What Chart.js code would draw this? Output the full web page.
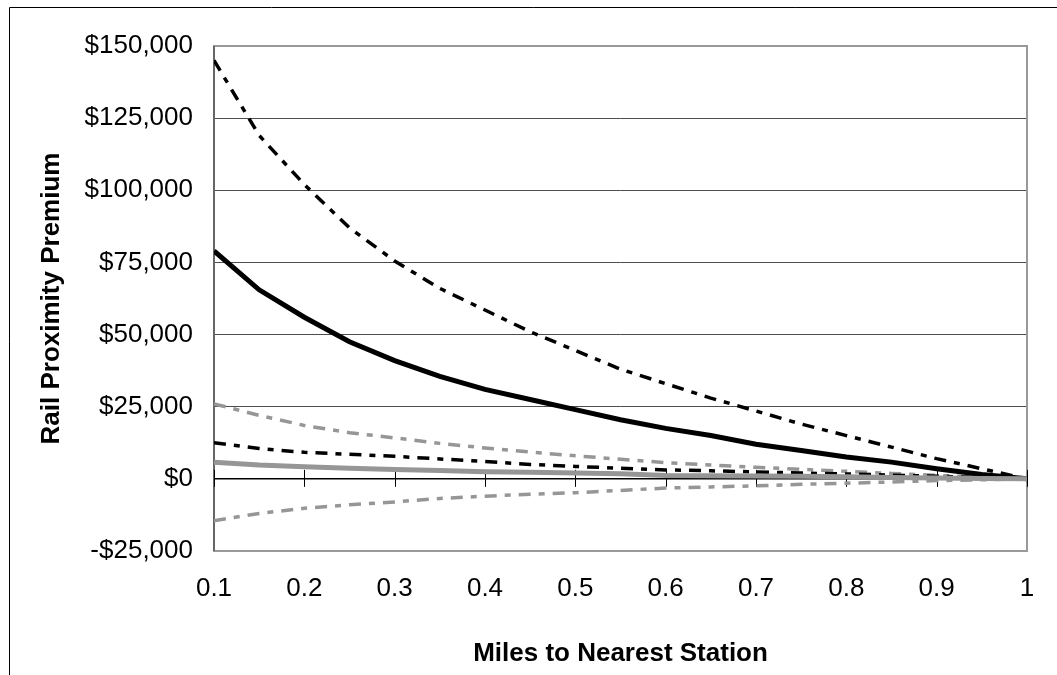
<!DOCTYPE html>
<html>
<head>
<meta charset="utf-8">
<script src="https://cdn.jsdelivr.net/npm/chart.js@4/dist/chart.umd.min.js"></script>
<style>
  html, body { margin: 0; padding: 0; background: #fff; }
  canvas { display: block; }
</style>
</head>
<body>
<canvas id="myChart" width="1057" height="675"></canvas>
<script>
// miles to nearest station (x values)
const miles = [0.1, 0.15, 0.2, 0.25, 0.3, 0.35, 0.4, 0.45, 0.5, 0.55,
               0.6, 0.65, 0.7, 0.75, 0.8, 0.85, 0.9, 0.95, 1.0];

// premium series (dollars)
const upperBlack = [145000, 119000, 102000, 87000, 75500, 66000, 58500, 51000, 44500, 38000,
                    33000, 28000, 23500, 19000, 15000, 11000, 7000, 3500, 0];
const mainBlack  = [79000, 65500, 56000, 47500, 41000, 35500, 31000, 27500, 24000, 20500,
                    17500, 15000, 12000, 9800, 7600, 5800, 3500, 1500, 0];
const upperGray  = [26000, 22000, 18500, 16000, 14200, 12300, 10700, 9300, 8000, 6800,
                    5600, 4800, 4000, 3300, 2600, 1900, 1200, 600, 0];
const lowerBlack = [12500, 10500, 9200, 8500, 7800, 6900, 6000, 5000, 4300, 3700,
                    3100, 2800, 2400, 2000, 1700, 1300, 900, 500, 0];
const mainGray   = [5800, 4800, 4200, 3700, 3200, 2900, 2500, 2300, 2000, 1800,
                    1200, 1100, 1000, 900, 700, 500, 300, 100, 0];
const lowerGray  = [-14500, -12000, -10200, -9000, -8000, -6800, -6000, -5300, -4800, -4000,
                    -3200, -2800, -2400, -1900, -1500, -1100, -600, -300, 0];

// axis ticks
const xTicks = [0.1, 0.2, 0.3, 0.4, 0.5, 0.6, 0.7, 0.8, 0.9, 1];
const yTicks = [-25000, 0, 25000, 50000, 75000, 100000, 125000, 150000];

const FONT = 'Arial, "Liberation Sans", sans-serif';
const GRAY = '#969696';
const DASH = [12, 8, 6, 8];

function pts(arr) {
    return miles.map((m, i) => ({ x: m, y: arr[i] }));
}

function fmtDollar(v) {
    const s = '$' + Math.abs(v).toLocaleString('en-US');
    return v < 0 ? '-' + s : s;
}

// frame, plot border and the tick marks on the zero line
const decorPlugin = {
    id: 'decor',
    beforeDraw(chart) {
        const ctx = chart.ctx;
        ctx.save();
        ctx.strokeStyle = '#000';
        ctx.lineWidth = 1;
        ctx.beginPath();
        ctx.moveTo(9.5, 675);
        ctx.lineTo(9.5, 7.5);
        ctx.lineTo(1057, 7.5);
        ctx.stroke();
        ctx.restore();
    },
    beforeDatasetsDraw(chart) {
        const { ctx, chartArea: a, scales: { x, y } } = chart;
        ctx.save();
        ctx.strokeStyle = '#999';
        ctx.lineWidth = 2;
        ctx.strokeRect(a.left, a.top, a.right - a.left, a.bottom - a.top);
        ctx.strokeStyle = '#666';
        ctx.beginPath();
        ctx.moveTo(a.left, a.top);
        ctx.lineTo(a.left, a.bottom);
        ctx.stroke();
        const y0 = y.getPixelForValue(0);
        ctx.strokeStyle = '#000';
        ctx.lineWidth = 1;
        xTicks.forEach(t => {
            const px = Math.round(x.getPixelForValue(t)) + 0.5;
            ctx.beginPath();
            ctx.moveTo(px, y0 - 9);
            ctx.lineTo(px, y0 + 8);
            ctx.stroke();
        });
        ctx.restore();
    }
};

let ctx = document.getElementById('myChart');
let myChart = new Chart(ctx, {
    type: 'line',
    data: {
        datasets: [
            { label: 'gray solid', data: pts(mainGray), borderColor: GRAY, borderWidth: 5 },
            { label: 'black solid', data: pts(mainBlack), borderColor: '#000', borderWidth: 5 },
            { label: 'black upper', data: pts(upperBlack), borderColor: '#000', borderWidth: 3.5, borderDash: DASH },
            { label: 'black lower', data: pts(lowerBlack), borderColor: '#000', borderWidth: 3.5, borderDash: DASH },
            { label: 'gray upper', data: pts(upperGray), borderColor: GRAY, borderWidth: 3.5, borderDash: DASH },
            { label: 'gray lower', data: pts(lowerGray), borderColor: GRAY, borderWidth: 3.5, borderDash: DASH }
        ]
    },
    options: {
        responsive: false,
        animation: false,
        devicePixelRatio: 1,
        layout: { padding: { left: 0, top: 46, right: 30, bottom: 0 } },
        elements: {
            point: { radius: 0 },
            line: { tension: 0, borderCapStyle: 'butt', fill: false }
        },
        plugins: { legend: { display: false }, tooltip: { enabled: false } },
        scales: {
            x: {
                type: 'linear',
                min: 0.1,
                max: 1,
                afterFit: s => { s.height = 124; },
                afterBuildTicks: s => { s.ticks = xTicks.map(v => ({ value: v })); },
                grid: { display: false, drawTicks: false },
                border: { display: false },
                ticks: {
                    padding: 22,
                    color: '#000',
                    font: { family: FONT, size: 26 },
                    callback: v => String(Math.round(v * 10) / 10)
                },
                title: {
                    display: true,
                    text: 'Miles to Nearest Station',
                    color: '#000',
                    font: { family: FONT, size: 26, weight: 'bold' },
                    padding: { top: 0, bottom: 6 }
                }
            },
            y: {
                min: -25000,
                max: 150000,
                afterFit: s => { s.width = 214; },
                afterBuildTicks: s => { s.ticks = yTicks.map(v => ({ value: v })); },
                grid: {
                    drawTicks: false,
                    color: c => c.tick.value === 0 ? '#000' :
                        (c.tick.value === 150000 || c.tick.value === -25000 ? 'rgba(0,0,0,0)' : '#4d4d4d'),
                    lineWidth: c => c.tick.value === 0 ? 1.5 : 1
                },
                border: { display: false },
                ticks: {
                    padding: 21,
                    color: '#000',
                    font: { family: FONT, size: 26 },
                    callback: v => fmtDollar(v)
                },
                title: {
                    display: true,
                    text: 'Rail Proximity Premium',
                    color: '#000',
                    font: { family: FONT, size: 26, weight: 'bold' },
                    padding: { top: 36, bottom: 0 }
                }
            }
        }
    },
    plugins: [decorPlugin]
});
</script>
</body>
</html>
